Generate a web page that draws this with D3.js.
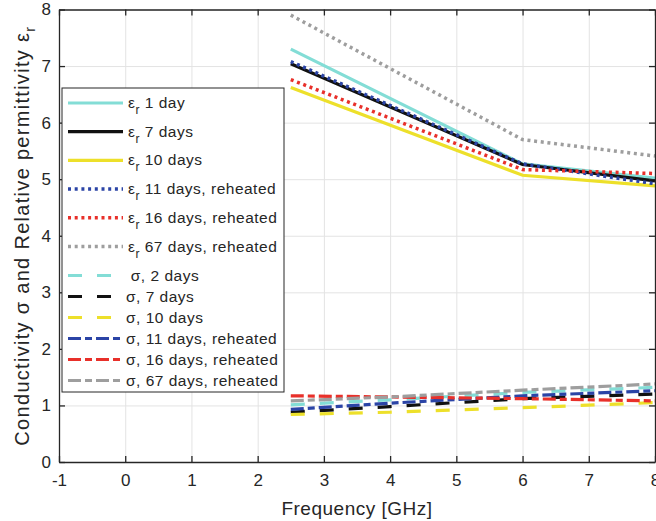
<!DOCTYPE html>
<html lang="en">
<head>
    <meta charset="UTF-8">
    <title>Permittivity and conductivity</title>
    <script src="https://d3js.org/d3.v7.min.js"></script>
</head>
<style>
    body { margin: 0; background: #fff; }
    text { font-family: "Liberation Sans", Arial, Helvetica, sans-serif; fill: #262626; }
    .grid line { stroke: #e3e3e3; stroke-width: 1px; }
    .grid path { stroke-width: 0; }
</style>
<body>
    <div id="chart"></div>
</body>
<script>
    // measured frequencies
    const freqEps = [2.5, 6, 8];
    const freqSig = [2.5, 4, 6, 8];

    // relative permittivity
    const eps1day = [7.30, 5.27, 5.02];
    const eps7days = [7.04, 5.26, 4.97];
    const eps10days = [6.62, 5.07, 4.88];
    const eps11daysReheated = [7.08, 5.27, 4.92];
    const eps16daysReheated = [6.76, 5.17, 5.10];
    const eps67daysReheated = [7.90, 5.70, 5.41];

    // conductivity
    const sig2days = [1.01, 1.10, 1.23, 1.32];
    const sig7days = [0.88, 0.98, 1.12, 1.20];
    const sig10days = [0.84, 0.88, 0.96, 1.05];
    const sig11daysReheated = [0.93, 1.04, 1.17, 1.26];
    const sig16daysReheated = [1.17, 1.15, 1.12, 1.08];
    const sig67daysReheated = [1.08, 1.15, 1.27, 1.38];

    const xTicks = [-1, 0, 1, 2, 3, 4, 5, 6, 7, 8];
    const yTicks = [0, 1, 2, 3, 4, 5, 6, 7, 8];

    const series = [
        { name: "1 day", kind: "eps", x: freqEps, y: eps1day, color: "#83ddd6", style: "solid" },
        { name: "7 days", kind: "eps", x: freqEps, y: eps7days, color: "#111111", style: "solid" },
        { name: "10 days", kind: "eps", x: freqEps, y: eps10days, color: "#ede02a", style: "solid" },
        { name: "11 days, reheated", kind: "eps", x: freqEps, y: eps11daysReheated, color: "#2b44a6", style: "dot" },
        { name: "16 days, reheated", kind: "eps", x: freqEps, y: eps16daysReheated, color: "#e8302a", style: "dot" },
        { name: "67 days, reheated", kind: "eps", x: freqEps, y: eps67daysReheated, color: "#9e9e9e", style: "dot" },
        { name: " σ, 2 days", kind: "sig", x: freqSig, y: sig2days, color: "#83ddd6", style: "dash" },
        { name: "σ, 7 days", kind: "sig", x: freqSig, y: sig7days, color: "#111111", style: "dash" },
        { name: "σ, 10 days", kind: "sig", x: freqSig, y: sig10days, color: "#ede02a", style: "dash" },
        { name: "σ, 11 days, reheated", kind: "sig", x: freqSig, y: sig11daysReheated, color: "#2b44a6", style: "dashdot" },
        { name: "σ, 16 days, reheated", kind: "sig", x: freqSig, y: sig16daysReheated, color: "#e8302a", style: "dashdot" },
        { name: "σ, 67 days, reheated", kind: "sig", x: freqSig, y: sig67daysReheated, color: "#9e9e9e", style: "dashdot" }
    ];

    const dashes = { solid: null, dot: "3,3.7", dash: "14,15", dashdot: "13,4,7,4" };

    const margin = { top: 9.5, right: 1, bottom: 59, left: 59 },
        fullW = 656, fullH = 521,
        width = fullW - margin.left - margin.right,
        height = fullH - margin.top - margin.bottom;

    const svg = d3.select("#chart")
        .append("svg")
        .attr("width", fullW)
        .attr("height", fullH)
        .append("g")
        .attr("transform", `translate(${margin.left}, ${margin.top})`);

    const x = d3.scaleLinear().domain([-1, 8]).range([0, width]);
    const y = d3.scaleLinear().domain([0, 8]).range([height, 0]);

    // gridlines
    svg.append("g")
        .attr("class", "grid")
        .attr("transform", `translate(0, ${height})`)
        .call(d3.axisBottom(x).tickValues(xTicks).tickSize(-height).tickFormat(""));
    svg.append("g")
        .attr("class", "grid")
        .call(d3.axisLeft(y).tickValues(yTicks).tickSize(-width).tickFormat(""));

    // lines
    const line = d3.line()
        .x(d => x(d[0]))
        .y(d => y(d[1]));

    svg.append("defs").append("clipPath").attr("id", "clip")
        .append("rect").attr("width", width).attr("height", height);

    svg.append("g").attr("clip-path", "url(#clip)")
        .selectAll("path")
        .data(series)
        .enter()
        .append("path")
        .attr("d", s => line(s.x.map((v, i) => [v, s.y[i]])))
        .attr("fill", "none")
        .attr("stroke", s => s.color)
        .attr("stroke-width", s => s.style === "dot" ? 3.5 : 3.2)
        .attr("stroke-dasharray", s => dashes[s.style]);

    // axes box with inward ticks
    const axisStyle = g => {
        g.select(".domain").attr("stroke", "#262626").attr("stroke-width", 1.3);
        g.selectAll(".tick line").attr("stroke", "#262626").attr("stroke-width", 1.3);
        g.selectAll(".tick text").attr("font-size", "17px").attr("fill", "#262626")
            .attr("font-family", "'Liberation Sans', Arial, sans-serif");
    };
    svg.append("g")
        .attr("transform", `translate(0, ${height})`)
        .call(d3.axisBottom(x).tickValues(xTicks).tickSizeInner(-6).tickSizeOuter(0).tickPadding(12)
            .tickFormat(d => String(d)))
        .call(axisStyle);
    svg.append("g")
        .call(d3.axisTop(x).tickValues(xTicks).tickSizeInner(-6).tickSizeOuter(0).tickFormat(""))
        .call(axisStyle);
    svg.append("g")
        .call(d3.axisLeft(y).tickValues(yTicks).tickSizeInner(-6).tickSizeOuter(0).tickPadding(8))
        .call(axisStyle);
    svg.append("g")
        .attr("transform", `translate(${width}, 0)`)
        .call(d3.axisRight(y).tickValues(yTicks).tickSizeInner(-6).tickSizeOuter(0).tickFormat(""))
        .call(axisStyle);

    // axis titles
    svg.append("text")
        .attr("x", width / 2)
        .attr("y", height + 53)
        .attr("text-anchor", "middle")
        .attr("font-size", "19px")
        .attr("letter-spacing", "0.5px")
        .text("Frequency [GHz]");

    const yTitle = svg.append("text")
        .attr("transform", `translate(-30, ${height / 2}) rotate(-90)`)
        .attr("text-anchor", "middle")
        .attr("font-size", "20px")
        .attr("letter-spacing", "1.3px");
    yTitle.append("tspan").text("Conductivity σ and Relative permittivity ε");
    yTitle.append("tspan").attr("font-size", "14px").attr("dy", 6).text("r");

    // legend
    const legend = svg.append("g").attr("transform", `translate(${62 - margin.left}, ${88 - margin.top})`);
    legend.append("rect")
        .attr("width", 222)
        .attr("height", 304)
        .attr("fill", "#fff")
        .attr("stroke", "#262626")
        .attr("stroke-width", 1);

    const rowY = (s, i) => s.kind === "eps" ? 15 + i * 28.7 : 187.5 + (i - 6) * 21;

    const rows = legend.selectAll(".row")
        .data(series)
        .enter()
        .append("g")
        .attr("transform", (s, i) => `translate(0, ${rowY(s, i)})`);

    rows.append("line")
        .attr("x1", 6).attr("x2", 61)
        .attr("stroke", s => s.color)
        .attr("stroke-width", s => s.style === "dot" ? 3.5 : 3.2)
        .attr("stroke-dasharray", s => dashes[s.style]);

    rows.each(function (s) {
        const t = d3.select(this).append("text")
            .attr("x", s.kind === "eps" ? 66 : 64)
            .attr("y", 5)
            .attr("font-size", "15.5px")
            .attr("letter-spacing", "0.5px")
            .attr("xml:space", "preserve");
        if (s.kind === "eps") {
            t.append("tspan").text("ε");
            t.append("tspan").attr("font-size", "12px").attr("dy", 6).text("r");
            t.append("tspan").attr("dy", -6).text(" " + s.name);
        } else {
            t.text(s.name);
        }
    });
</script>
</html>
